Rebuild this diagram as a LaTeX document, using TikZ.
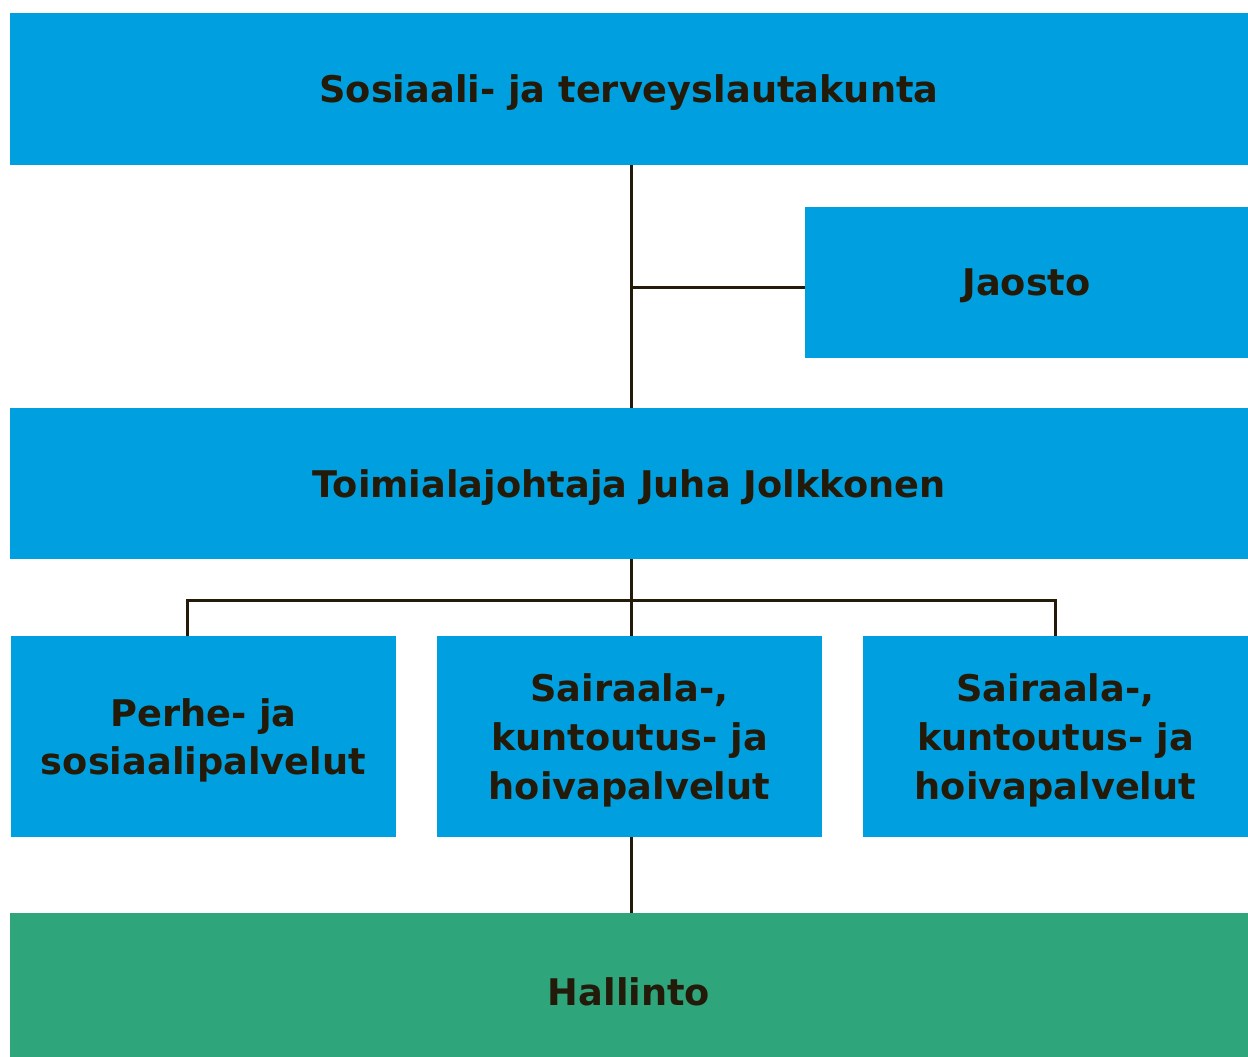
\documentclass[tikz,border=0pt]{standalone}
\usepackage{fontspec}
\setmainfont{DejaVu Sans}
\usepackage{tikz}
\usetikzlibrary{positioning}
\definecolor{boxBlue}{RGB}{0,159,223}
\definecolor{boxGreen}{RGB}{46,165,123}
\definecolor{lineColor}{RGB}{36,26,10}
\tikzstyle{chart} = [x = .02cm, y = -.02cm]
\tikzstyle{orgBox} = [fill=boxBlue, inner sep=0pt, align=center, text=lineColor,
  text depth=0pt, font=\fontsize{20.9}{27.8}\selectfont\bfseries]
\tikzstyle{wideBox} = [orgBox, minimum width=24.76cm]
\tikzstyle{unitBox} = [orgBox, minimum width=7.7cm, minimum height=4.02cm]
\tikzstyle{orgLine} = [color=lineColor, line width=.06cm]
\begin{document}
\begin{tikzpicture}[chart]
  \useasboundingbox (0,0) rectangle (1248,1057);
  \node [wideBox, minimum height=3.04cm] (lautakunta) at (629,89) {Sosiaali- ja terveyslautakunta};
  \node [orgBox, minimum width=8.86cm, minimum height=3.02cm] (jaosto) at (1026.5,282.5) {Jaosto};
  \node [wideBox, minimum height=3.02cm] (johtaja) at (629,483.5) {Toimialajohtaja Juha Jolkkonen};
  \node [unitBox] (perhe) at (203.5,736.5) {Perhe- ja\\sosiaalipalvelut};
  \node [unitBox] (sairaalaA) at (629.5,736.5) {Sairaala-,\\kuntoutus- ja\\hoivapalvelut};
  \node [unitBox] (sairaalaB) at (1055.5,736.5) {Sairaala-,\\kuntoutus- ja\\hoivapalvelut};
  \node [wideBox, fill=boxGreen, minimum height=3.16cm] (hallinto) at (629,992) {Hallinto};

  % rungon pisteet
  \coordinate (ylaPaa) at (631,165);
  \coordinate (haara) at (631,288);
  \coordinate (kisko) at (631,600);
  \coordinate (vasenPaa) at (187,636);
  \draw [orgLine] (ylaPaa) -- (ylaPaa |- johtaja.north);
  \draw [orgLine] (haara) -- (haara -| jaosto.west);
  \draw [orgLine] (kisko |- johtaja.south) -- (kisko |- sairaalaA.north);
  \draw [orgLine] (vasenPaa) |- (kisko) -| (sairaalaB.north);
  \draw [orgLine] (kisko |- sairaalaA.south) -- (kisko |- hallinto.north);
\end{tikzpicture}
\end{document}
